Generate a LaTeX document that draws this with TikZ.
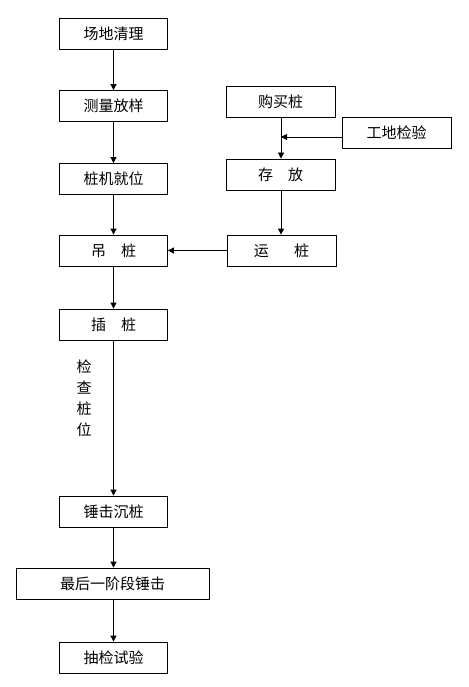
\documentclass[tikz,border=0pt]{standalone}
\usepackage{fontspec}
\newfontfamily\cjk{Noto Sans CJK SC}
\usetikzlibrary{arrows.meta}
\begin{document}
\begin{tikzpicture}[x=1pt,y=-1pt,
  box/.style={draw,line width=0.8pt,minimum height=31pt,inner sep=0pt,font=\cjk\fontsize{15}{16}\selectfont},
  link/.style={line width=0.8pt,-{Triangle[width=6pt,length=6pt]}}]
\useasboundingbox (0,0) rectangle (468,687);
\node[box,minimum width=108pt] (a) at (113.5,33.5) {场地清理};
\node[box,minimum width=108pt] (b) at (113.5,106) {测量放样};
\node[box,minimum width=108pt] (c) at (113.5,179) {桩机就位};
\node[box,minimum width=108pt] (d) at (113.5,250.5) {吊\hspace{1em}桩};
\node[box,minimum width=108pt] (e) at (113.5,324.5) {插\hspace{1em}桩};
\node[box,minimum width=108pt] (f) at (113.5,511.5) {锤击沉桩};
\node[box,minimum width=193pt] (g) at (112.5,583.5) {最后一阶段锤击};
\node[box,minimum width=108pt] (h) at (113.5,657.5) {抽检试验};
\node[box,minimum width=109pt] (p) at (280.5,101.5) {购买桩};
\node[box,minimum width=109pt] (q) at (396.5,132.5) {工地检验};
\node[box,minimum width=109pt] (r) at (280.5,174.5) {存\hspace{1em}放};
\node[box,minimum width=109pt] (s) at (281.5,250.5) {运\hspace{1.7em}桩};
\node[font=\cjk\fontsize{15}{21}\selectfont,align=center,inner sep=0pt] (t) at (84,398) {检\\查\\桩\\位};
\coordinate (m) at (281,137);
\draw[link] (a) -- (b);
\draw[link] (b) -- (c);
\draw[link] (c) -- (d);
\draw[link] (d) -- (e);
\draw[link] (e) -- (f);
\draw[link] (f) -- (f |- g.north);
\draw[link] (f |- g.south) -- (h);
\draw[line width=0.8pt] (p.south -| m) -- (m);
\draw[link] (m) -- (r.north -| m);
\draw[link] (q.west |- m) -- (m);
\draw[link] (r.south -| m) -- (s.north -| m);
\draw[link] (s) -- (d);
\end{tikzpicture}
\end{document}
